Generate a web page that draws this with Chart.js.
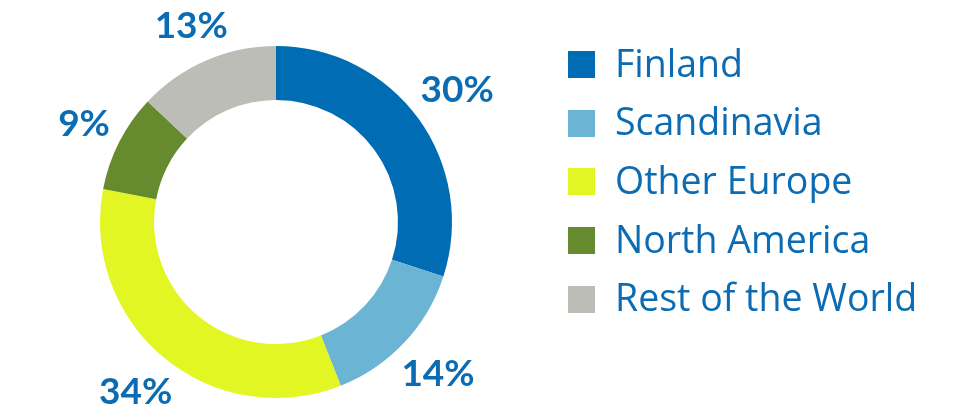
<!DOCTYPE html>
<html>
<head>
<meta charset="utf-8">
<script src="https://cdn.jsdelivr.net/npm/chart.js@4"></script>
<style>
  body { margin: 0; background: #fff; }
  #wrap { position: relative; width: 969px; height: 418px; overflow: hidden; }
  #chart { position: absolute; left: 0; top: 0; }
  .item { position: absolute; left: 568px; height: 27px; }
  .box { position: absolute; left: 0; top: 0; width: 27px; height: 27px; }
  .lbl { position: absolute; left: 47px; bottom: -3px; font-family: "Open Sans", sans-serif;
         font-size: 37.5px; line-height: 1; color: #0b6cb3; white-space: nowrap; }
</style>
</head>
<body>
<div id="wrap">
  <canvas id="chart" width="969" height="418"></canvas>
  <div id="legend"></div>
</div>
<script>
const regions = ["Finland", "Scandinavia", "Other Europe", "North America", "Rest of the World"];
const shares = [30, 14, 34, 9, 13];
const colors = ["#006cb4", "#6bb4d3", "#e2f623", "#668b2e", "#bdbdb7"];
const textColor = "#0b6cb3";

// legend on the right
const legend = document.getElementById("legend");
regions.forEach((r, i) => {
    legend.innerHTML += `
        <div class="item" style="top:${51 + i * 58.7}px">
            <div class="box" style="background:${colors[i]}"></div>
            <div class="lbl">${r}</div>
        </div>`;
});

// percentage labels outside the ring
const outerLabels = {
    id: "outerLabels",
    afterDatasetsDraw(chart) {
        const ctx = chart.ctx;
        const meta = chart.getDatasetMeta(0);
        ctx.save();
        ctx.font = "bold 37px Lato, sans-serif";
        ctx.fillStyle = textColor;
        ctx.textAlign = "center";
        ctx.textBaseline = "middle";
        meta.data.forEach((arc, i) => {
            const text = shares[i] + "%";
            const a = (arc.startAngle + arc.endAngle) / 2;
            const hw = ctx.measureText(text).width / 2;
            const hh = 14;
            const r = arc.outerRadius + 10 + hw * Math.abs(Math.cos(a)) + hh * Math.abs(Math.sin(a));
            ctx.fillText(text, arc.x + Math.cos(a) * r, arc.y + Math.sin(a) * r);
        });
        ctx.restore();
    }
};

new Chart(document.getElementById("chart"), {
    type: "doughnut",
    data: {
        labels: regions,
        datasets: [{
            data: shares,
            backgroundColor: colors,
            borderWidth: 0
        }]
    },
    options: {
        responsive: false,
        animation: false,
        cutout: "69.3%",
        layout: { padding: { left: 100, right: 517, top: 46, bottom: 20 } },
        plugins: {
            legend: { display: false },
            tooltip: { enabled: false }
        }
    },
    plugins: [outerLabels]
});
</script>
</body>
</html>
